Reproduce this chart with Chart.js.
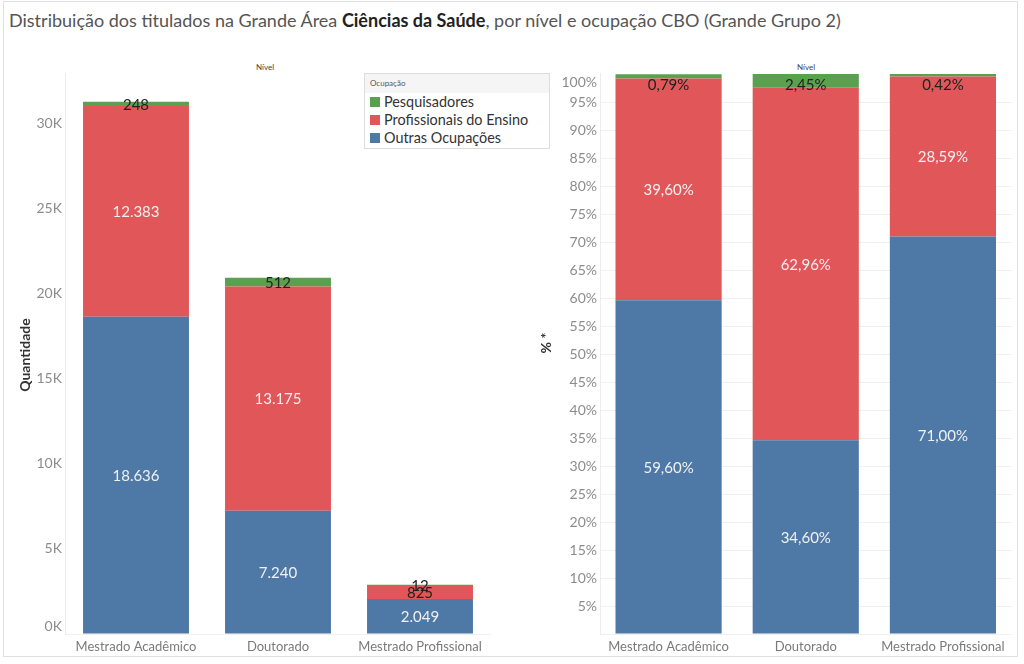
<!DOCTYPE html>
<html><head><meta charset="utf-8">
<script src="https://cdn.jsdelivr.net/npm/chart.js@4"></script>
<style>
body{margin:0;width:1024px;height:664px;background:#fff;position:relative;overflow:hidden;font-family:Lato,sans-serif}
#frame{position:absolute;left:3px;top:1px;width:1015px;height:656px;border:1px solid #e0e0e0;box-sizing:border-box}
#title{position:absolute;left:9px;top:9px;font-size:18px;color:#555;white-space:nowrap}
#title b{color:#222;font-weight:bold}
canvas{position:absolute;top:0}
#c1{left:0}
#c2{left:500px}
.nivel{position:absolute;top:62px;font-size:8px;color:#444;transform:translateX(-50%)}
#legend{position:absolute;left:364px;top:73px;width:186px;height:76px;border:1px solid #ddd;box-sizing:border-box;background:#fff}
#legend .hd{height:19px;background:#f5f5f5;font-size:8px;color:#555;padding-left:5px;line-height:19px}
#legend .it{height:18px;line-height:18px;font-size:14.4px;color:#333;position:relative;padding-left:19px}
#legend .sw{position:absolute;left:5px;top:4px;width:10px;height:10px}
</style></head>
<body>
<div id="frame"></div>
<div id="title">Distribuição dos titulados na Grande Área <b>Ciências da Saúde</b>, por nível e ocupação CBO (Grande Grupo 2)</div>
<div class="nivel" style="left:265px">Nível</div>
<div class="nivel" style="left:806px">Nível</div>
<canvas id="c1" width="500" height="664" style="width:500px;height:664px"></canvas>
<canvas id="c2" width="524" height="664" style="width:524px;height:664px"></canvas>
<div id="legend">
 <div class="hd">Ocupação</div>
 <div class="it"><span class="sw" style="background:#59a14f"></span>Pesquisadores</div>
 <div class="it"><span class="sw" style="background:#e15759"></span>Profissionais do Ensino</div>
 <div class="it"><span class="sw" style="background:#4e79a7"></span>Outras Ocupações</div>
</div>
<script>
// ---- data ----
const categories = ["Mestrado Acadêmico", "Doutorado", "Mestrado Profissional"];
const seriesNames = ["Outras Ocupações", "Profissionais do Ensino", "Pesquisadores"];
const outrasQtd = [18636, 7240, 2049];
const ensinoQtd = [12383, 13175, 825];
const pesqQtd = [248, 512, 12];
const outrasPct = [59.60, 34.60, 71.00];
const ensinoPct = [39.60, 62.96, 28.59];
const pesqPct = [0.79, 2.45, 0.42];
const qtdTickValues = [0, 5000, 10000, 15000, 20000, 25000, 30000];
const qtdTickLabels = ["0K", "5K", "10K", "15K", "20K", "25K", "30K"];
const pctTickValues = [5,10,15,20,25,30,35,40,45,50,55,60,65,70,75,80,85,90,95,100];
const pctTickLabels = pctTickValues.map(v => v + "%");

const colors = ["#4e79a7", "#e15759", "#59a14f"];
const FONT = "Lato, 'Open Sans', sans-serif";

function fmtQtd(v){ return String(v).replace(/\B(?=(\d{3})+(?!\d))/g, "."); }
function fmtPct(v){ return v.toFixed(2).replace(".", ",") + "%"; }

const drawPlugin = {
  id: 'custom',
  afterDatasetsDraw(chart, args, opts){
    const ctx = chart.ctx, a = chart.chartArea, ys = chart.scales.y;
    ctx.save();
    // tick labels
    ctx.font = "14px " + FONT; ctx.fillStyle = "#8c8c8c";
    ctx.textAlign = "right"; ctx.textBaseline = "middle";
    opts.tickValues.forEach((v, i) => {
      let py = ys.getPixelForValue(v);
      py = Math.min(Math.max(py, a.top + 9), a.bottom - 8);
      ctx.fillText(opts.tickLabels[i], a.left - 3, py);
    });
    // axis title
    ctx.save();
    ctx.translate(opts.titleX, opts.titleY);
    ctx.rotate(-Math.PI/2);
    ctx.textAlign = "center"; ctx.textBaseline = "middle";
    ctx.font = "bold 14px " + FONT; ctx.fillStyle = "#333";
    ctx.fillText(opts.title, 0, 0);
    ctx.restore();
    // data labels
    ctx.font = "15px " + FONT; ctx.textAlign = "center"; ctx.textBaseline = "middle";
    chart.data.datasets.forEach((ds, di) => {
      const meta = chart.getDatasetMeta(di);
      meta.data.forEach((el, i) => {
        const h = Math.abs(el.base - el.y);
        let cy = (el.y + el.base) / 2;
        cy = Math.max(cy, a.top + 11);
        ctx.fillStyle = h < 18 ? "#222" : "#f0f0f0";
        ctx.fillText(opts.fmt(ds.data[i]), el.x, cy + 1);
      });
    });
    ctx.restore();
  }
};

function makeChart(id, sets, yMax, step, padRight, yWidth, opts, barPct){
  return new Chart(document.getElementById(id), {
    type: 'bar',
    data: {
      labels: categories,
      datasets: sets.map((d, i) => ({
        label: seriesNames[i], data: d, backgroundColor: colors[i],
        barPercentage: barPct, categoryPercentage: 1, borderWidth: 0
      }))
    },
    options: {
      responsive: false, animation: false,
      layout: { padding: { top: 73, right: padRight, left: 0, bottom: 0 } },
      plugins: { legend: { display: false }, tooltip: { enabled: false }, custom: opts },
      scales: {
        x: {
          stacked: true,
          grid: { display: false, drawTicks: false },
          border: { display: false },
          ticks: { color: "#7a7a7a", font: { family: FONT, size: 13 }, padding: 5 },
          afterFit(s){ s.height = 30; }
        },
        y: {
          stacked: true, min: 0, max: yMax,
          ticks: { display: false, stepSize: step },
          afterBuildTicks(s){ s.ticks = s.ticks.filter(t => Math.abs(t.value / step - Math.round(t.value / step)) < 1e-6); },
          grid: { color: "#f0f0f0", drawTicks: false },
          border: { display: true, color: "#ececec" },
          afterFit(s){ s.width = yWidth; }
        }
      }
    },
    plugins: [drawPlugin]
  });
}

makeChart('c1', [outrasQtd, ensinoQtd, pesqQtd], 32950, 5000, 9, 65,
  { tickValues: qtdTickValues, tickLabels: qtdTickLabels, title: "Quantidade", titleX: 25, titleY: 355, fmt: fmtQtd }, 0.746);
makeChart('c2', [outrasPct, ensinoPct, pesqPct], 100.2, 5, 12.5, 100,
  { tickValues: pctTickValues, tickLabels: pctTickLabels, title: "% *", titleX: 46, titleY: 343, fmt: fmtPct }, 0.774);
</script>
</body></html>
